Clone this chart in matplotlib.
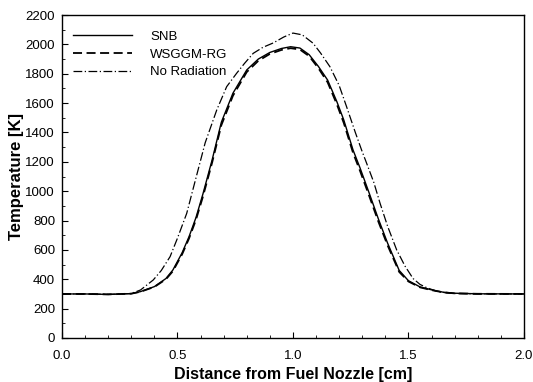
import matplotlib
matplotlib.use("Agg")
import matplotlib.pyplot as plt
from matplotlib.ticker import MultipleLocator

plt.rcParams['font.family'] = ['Liberation Sans', 'DejaVu Sans']

# Data
snb_x = [0.0, 0.1, 0.2, 0.3, 0.34, 0.4, 0.45, 0.48, 0.52, 0.55, 0.58, 0.61, 0.65,
         0.69, 0.74, 0.80, 0.85, 0.90, 0.95, 0.99, 1.03, 1.07, 1.11, 1.15, 1.19,
         1.22, 1.26, 1.29, 1.33, 1.37, 1.41, 1.46, 1.50, 1.55, 1.60, 1.65, 1.70,
         1.80, 2.0]
snb_t = [300, 300, 297, 302, 316, 350, 405, 463, 580, 690, 820, 980, 1213,
         1470, 1667, 1826, 1900, 1945, 1972, 1984, 1975, 1930, 1850, 1757, 1610,
         1485, 1281, 1160, 987, 810, 645, 460, 390, 348, 328, 312, 305,
         301, 300]

wsggm_x = [0.0, 0.1, 0.2, 0.3, 0.34, 0.4, 0.45, 0.48, 0.52, 0.55, 0.58, 0.61, 0.65,
           0.69, 0.74, 0.80, 0.85, 0.90, 0.95, 0.99, 1.03, 1.07, 1.11, 1.15, 1.19,
           1.22, 1.26, 1.29, 1.33, 1.37, 1.41, 1.46, 1.50, 1.55, 1.60, 1.65, 1.70,
           1.80, 2.0]
wsggm_t = [300, 300, 297, 302, 315, 348, 400, 455, 570, 678, 805, 962, 1195,
           1450, 1650, 1812, 1888, 1935, 1962, 1974, 1965, 1920, 1838, 1742, 1592,
           1465, 1262, 1140, 968, 792, 630, 450, 385, 345, 326, 311, 304,
           301, 300]

norad_x = [0.0, 0.1, 0.2, 0.3, 0.34, 0.395, 0.43, 0.468, 0.5, 0.54, 0.565, 0.59,
           0.62, 0.67, 0.713, 0.756, 0.79, 0.828, 0.87, 0.915, 0.96, 1.0, 1.04,
           1.087, 1.12, 1.16, 1.2, 1.232, 1.27, 1.297, 1.319, 1.35, 1.377, 1.41,
           1.449, 1.485, 1.52, 1.55, 1.58, 1.62, 1.66, 1.70, 1.80, 2.0]
norad_t = [300, 300, 297, 303, 327, 395, 460, 554, 680, 849, 1000, 1150,
           1330, 1553, 1712, 1803, 1870, 1939, 1980, 2010, 2050, 2077, 2065,
           2008, 1940, 1848, 1720, 1576, 1400, 1281, 1190, 1060, 918, 760,
           600, 490, 405, 365, 342, 320, 308, 303, 300, 300]

labels = ["SNB", "WSGGM-RG", "No Radiation"]
x_ticks = [0.0, 0.5, 1.0, 1.5, 2.0]
x_ticklabels = ["0.0", "0.5", "1.0", "1.5", "2.0"]
y_ticks = list(range(0, 2201, 200))

fig = plt.figure(figsize=(5.33, 3.82), dpi=100)
ax = fig.add_axes([0.1163, 0.1152, 0.8667, 0.8455])

ax.plot(snb_x, snb_t, color='black', lw=1.0, ls='-', label=labels[0])
ax.plot(wsggm_x, wsggm_t, color='black', lw=1.3, ls=(0, (5, 2.5)), label=labels[1])
ax.plot(norad_x, norad_t, color='black', lw=0.9, ls=(0, (7, 2, 1, 2)), label=labels[2])

ax.set_xlim(0, 2.0)
ax.set_ylim(0, 2200)
ax.set_xticks(x_ticks)
ax.set_xticklabels(x_ticklabels)
ax.set_yticks(y_ticks)
ax.xaxis.set_minor_locator(MultipleLocator(0.1))
ax.yaxis.set_minor_locator(MultipleLocator(100))
ax.tick_params(which='both', direction='in', top=False, right=False, labelsize=9.5)
ax.tick_params(axis='x', which='both', pad=9)
ax.tick_params(axis='y', which='both', pad=5)
ax.tick_params(which='major', length=4, width=0.8)
ax.tick_params(which='minor', length=2, width=0.6)
for s in ax.spines.values():
    s.set_linewidth(1.0)

ax.set_xlabel("Distance from Fuel Nozzle [cm]", fontsize=11.5, fontweight='bold', labelpad=3)
ax.set_ylabel("Temperature [K]", fontsize=12, fontweight='bold', labelpad=1)

leg = ax.legend(loc='upper left', frameon=False, fontsize=9.5, handlelength=4.5,
                bbox_to_anchor=(0.0238, 0.952), borderaxespad=0, borderpad=0,
                labelspacing=0.42, handletextpad=1.36)

fig.savefig("out.png", dpi=100)
